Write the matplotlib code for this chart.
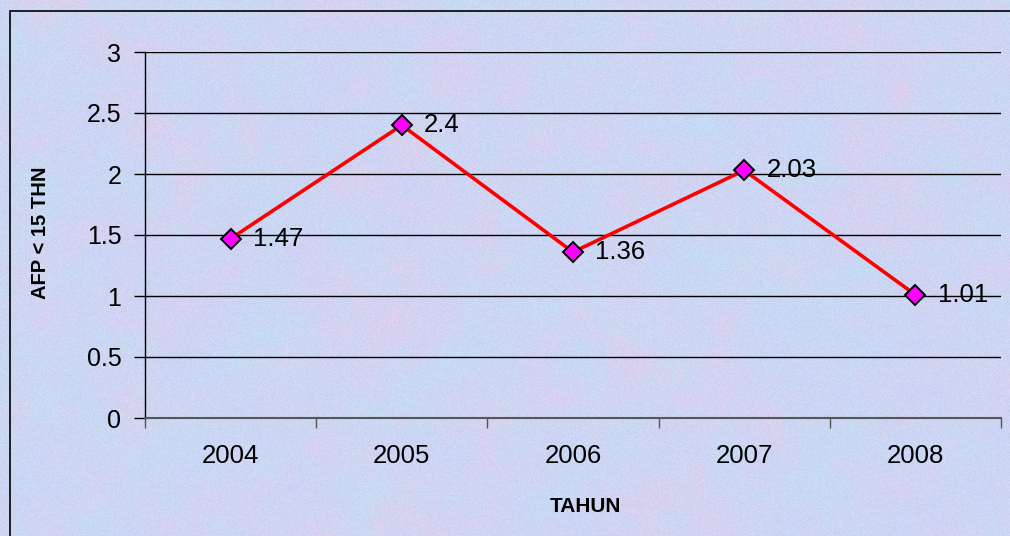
import numpy as np
import matplotlib
matplotlib.use("Agg")
import matplotlib.pyplot as plt
from matplotlib.patches import Rectangle

plt.rcParams['font.family'] = ['Liberation Sans', 'DejaVu Sans']

years = ['2004', '2005', '2006', '2007', '2008']
afp_rate = [1.47, 2.4, 1.36, 2.03, 1.01]
y_ticks = [0, 0.5, 1, 1.5, 2, 2.5, 3]
y_tick_labels = ['0', '0.5', '1', '1.5', '2', '2.5', '3']

W, H = 1010, 536


def smooth_noise(rng, h, w, cell):
    # bilinear-upsampled value noise
    gh, gw = h // cell + 2, w // cell + 2
    g = rng.random((gh, gw))
    ys = np.arange(h) / cell
    xs = np.arange(w) / cell
    y0 = ys.astype(int)
    x0 = xs.astype(int)
    fy = (ys - y0)[:, None]
    fx = (xs - x0)[None, :]
    a = g[y0][:, x0]
    b = g[y0][:, x0 + 1]
    c = g[y0 + 1][:, x0]
    d = g[y0 + 1][:, x0 + 1]
    return a * (1 - fx) * (1 - fy) + b * fx * (1 - fy) + c * (1 - fx) * fy + d * fx * fy


def fractal(rng, h, w):
    out = np.zeros((h, w))
    for cell, amp in [(45, 0.4), (18, 0.3), (7, 0.2), (3, 0.1)]:
        out += amp * smooth_noise(rng, h, w, cell)
    out -= out.min()
    return out / out.max()


# mottled paper texture for the chart background
rng = np.random.default_rng(7)
pink_mix = fractal(rng, H, W)[:, :, None] ** 2.2
cyan_mix = fractal(rng, H, W)[:, :, None] ** 1.8
base = np.array([204, 212, 244]) / 255
pink = np.array([230, 204, 236]) / 255
cyan = np.array([188, 228, 244]) / 255
tex = base * (1 - pink_mix) + pink * pink_mix
tex = tex * (1 - 0.6 * cyan_mix) + cyan * 0.6 * cyan_mix
tex += (rng.random((H, W, 1)) - 0.5) * 0.045
tex = np.clip(tex, 0, 1)

fig = plt.figure(figsize=(W / 100, H / 100), dpi=100)
fig.figimage(tex, 0, 0, zorder=-5)
fig.patches.append(Rectangle((10 / W, -0.05), 1.1, 1 - 11 / H + 0.05,
                             transform=fig.transFigure, fill=False,
                             edgecolor='black', linewidth=1.2, zorder=1))

ax = fig.add_axes([145 / W, 118 / H, 856 / W, 366 / H])
ax.set_zorder(2)
ax.set_facecolor('none')

x = np.arange(len(years))
ax.plot(x, afp_rate, color='red', linewidth=2.6, zorder=3,
        marker='D', markersize=10.5, markerfacecolor='#ff00ff',
        markeredgecolor='black', markeredgewidth=1.4)
for xi, v in zip(x, afp_rate):
    ax.annotate(f'{v:g}', (xi, v), xytext=(16, 0), textcoords='offset points',
                ha='left', va='center', fontsize=18.5, zorder=4)

ax.set_xlim(-0.5, len(years) - 0.5)
ax.set_ylim(0, 3)
ax.set_yticks(y_ticks)
ax.set_yticklabels(y_tick_labels, fontsize=18)
ax.set_xticks(x)
ax.set_xticklabels(years, fontsize=18.5)
ax.set_xticks(np.arange(-0.5, len(years)), minor=True)
ax.tick_params(axis='x', which='major', length=0, pad=19)
ax.tick_params(axis='x', which='minor', length=7, width=1, color='#555555')
ax.tick_params(axis='y', length=8, width=1, color='black', pad=9)

ax.yaxis.grid(True, color='black', linewidth=1)
ax.set_axisbelow(True)
for side in ['top', 'right']:
    ax.spines[side].set_visible(False)
ax.spines['left'].set_color('black')
ax.spines['left'].set_linewidth(1)
ax.spines['bottom'].set_color('#555555')
ax.spines['bottom'].set_linewidth(1.5)

fig.text(585 / W, 1 - 507 / H, 'TAHUN', fontsize=15, fontweight='bold',
         ha='center', va='center')
fig.text(40 / W, 1 - 233 / H, 'AFP < 15 THN', fontsize=14.5, fontweight='bold',
         rotation=90, ha='center', va='center')

fig.savefig('out.png', dpi=100)
